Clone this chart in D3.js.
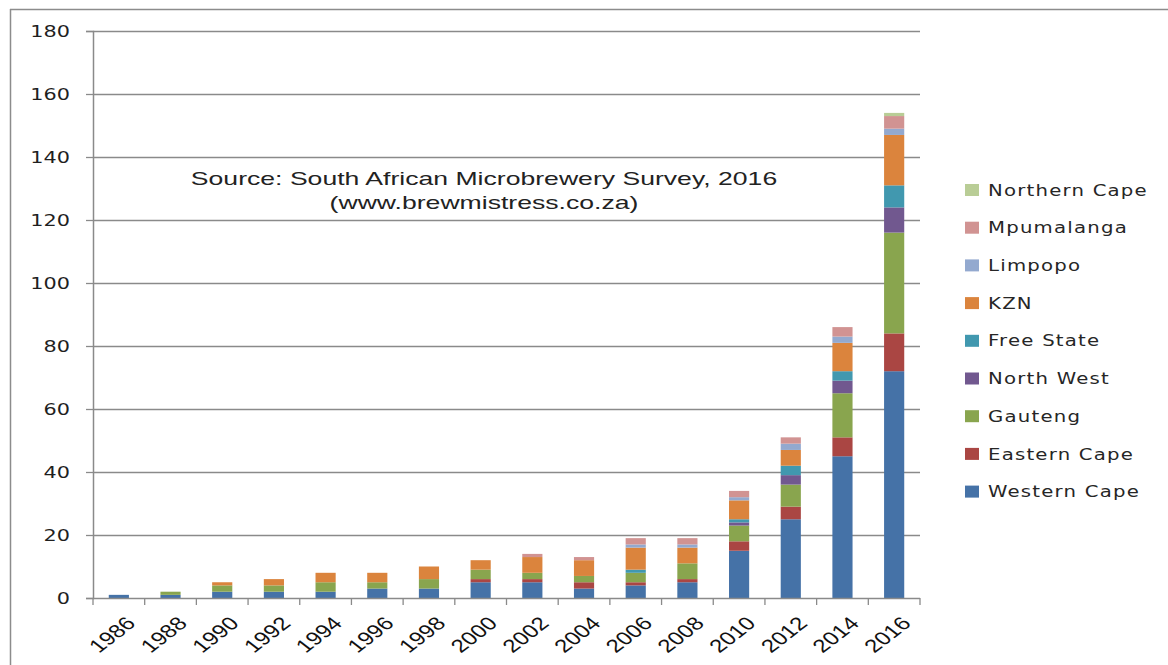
<!DOCTYPE html>
<html>
<head>
<meta charset="utf-8">
<script src="https://cdn.jsdelivr.net/npm/d3@7"></script>
<style>
  body { margin: 0; background: #fff; }
</style>
</head>
<body>
<div id="chart"></div>
<script>
// data
const years = ["1986","1988","1990","1992","1994","1996","1998","2000","2002","2004","2006","2008","2010","2012","2014","2016"];
const westernCape  = [1, 1, 2, 2, 2, 3, 3, 5, 5, 3, 4, 5, 15, 25, 45, 72];
const easternCape  = [0, 0, 0, 0, 0, 0, 0, 1, 1, 2, 1, 1, 3, 4, 6, 12];
const gauteng      = [0, 1, 2, 2, 3, 2, 3, 3, 2, 2, 3, 5, 5, 7, 14, 32];
const northWest    = [0, 0, 0, 0, 0, 0, 0, 0, 0, 0, 0, 0, 1, 3, 4, 8];
const freeState    = [0, 0, 0, 0, 0, 0, 0, 0, 0, 0, 1, 0, 1, 3, 3, 7];
const kzn          = [0, 0, 1, 2, 3, 3, 4, 3, 5, 5, 7, 5, 6, 5, 9, 16];
const limpopo      = [0, 0, 0, 0, 0, 0, 0, 0, 0, 0, 1, 1, 1, 2, 2, 2];
const mpumalanga   = [0, 0, 0, 0, 0, 0, 0, 0, 1, 1, 2, 2, 2, 2, 3, 4];
const northernCape = [0, 0, 0, 0, 0, 0, 0, 0, 0, 0, 0, 0, 0, 0, 0, 1];
const yTicks = [0, 20, 40, 60, 80, 100, 120, 140, 160, 180];

const seriesNames = ["Western Cape","Eastern Cape","Gauteng","North West","Free State","KZN","Limpopo","Mpumalanga","Northern Cape"];
const seriesValues = [westernCape, easternCape, gauteng, northWest, freeState, kzn, limpopo, mpumalanga, northernCape];
const colors = ["#4572A7","#AA4643","#89A54E","#71588F","#4198AF","#DB843D","#93A9CF","#D19392","#B9CD96"];

// build rows for the stack
const rows = years.map(function(y, i) {
  const r = {year: y};
  seriesNames.forEach(function(s, j) { r[s] = seriesValues[j][i]; });
  return r;
});

const W = 1168, H = 665;
const margin = {top: 31, right: 248, bottom: 67, left: 93},
    width = W - margin.left - margin.right,
    height = H - margin.top - margin.bottom;

// the source image is stretched sideways, so text gets the same stretch
const stretch = 1.3;

const svg = d3.select("#chart").append("svg")
    .attr("width", W)
    .attr("height", H);

// outer frame (only top and left edges show)
svg.append("line").attr("x1", 10).attr("x2", W).attr("y1", 9.5).attr("y2", 9.5)
    .attr("stroke", "#8c8c8c").attr("stroke-width", 1.5);
svg.append("line").attr("x1", 10.5).attr("x2", 10.5).attr("y1", 9).attr("y2", H)
    .attr("stroke", "#8c8c8c").attr("stroke-width", 1.5);

const g = svg.append("g")
    .attr("transform", `translate(${margin.left}, ${margin.top})`);

const x = d3.scaleBand()
    .domain(years)
    .range([0, width])
    .paddingInner(0.61)
    .paddingOuter(0.305);

const y = d3.scaleLinear()
    .domain([0, 180])
    .range([height, 0]);

// gridlines
g.selectAll(".grid")
  .data(yTicks.filter(function(d) { return d > 0; }))
  .join("line")
    .attr("class", "grid")
    .attr("x1", 0).attr("x2", width)
    .attr("y1", function(d) { return Math.round(y(d)) + 0.5; })
    .attr("y2", function(d) { return Math.round(y(d)) + 0.5; })
    .attr("stroke", "#8a8a8a")
    .attr("stroke-width", 1.3);

// stacked bars
const stack = d3.stack().keys(seriesNames);
const layers = stack(rows);

g.selectAll(".layer")
  .data(layers)
  .join("g")
    .attr("class", "layer")
    .attr("fill", function(d, i) { return colors[i]; })
  .selectAll("rect")
  .data(function(d) { return d; })
  .join("rect")
    .attr("x", function(d) { return x(d.data.year); })
    .attr("width", x.bandwidth())
    .attr("y", function(d) { return y(d[1]); })
    .attr("height", function(d) { return y(d[0]) - y(d[1]); });

// y axis
const yAxis = g.append("g")
    .call(d3.axisLeft(y).tickValues(yTicks).tickSize(7));
yAxis.select(".domain").attr("stroke", "#8a8a8a").attr("stroke-width", 1.5);
yAxis.selectAll(".tick line").attr("stroke", "#8a8a8a").attr("stroke-width", 1.3);
yAxis.selectAll(".tick text")
    .attr("x", 0)
    .attr("transform", `translate(-23, 0) scale(${stretch}, 1)`)
    .attr("font-family", "DejaVu Sans, Verdana, sans-serif")
    .attr("font-size", 16)
    .attr("fill", "#1f1f1f");

// x axis: ticks on category boundaries
const xAxisG = g.append("g").attr("transform", `translate(0, ${height})`);
xAxisG.append("line")
    .attr("x1", 0).attr("x2", width)
    .attr("y1", 0.5).attr("y2", 0.5)
    .attr("stroke", "#8a8a8a").attr("stroke-width", 1.5);
const step = x.step();
xAxisG.selectAll(".xtick")
  .data(d3.range(years.length + 1))
  .join("line")
    .attr("class", "xtick")
    .attr("x1", function(i) { return x(years[0]) - x.paddingOuter() * step + i * step; })
    .attr("x2", function(i) { return x(years[0]) - x.paddingOuter() * step + i * step; })
    .attr("y1", 0).attr("y2", 7)
    .attr("stroke", "#8a8a8a").attr("stroke-width", 1.3);

xAxisG.selectAll(".xlabel")
  .data(years)
  .join("text")
    .attr("class", "xlabel")
    .attr("transform", function(d) {
      return `translate(${x(d) + x.bandwidth() / 2 + 12}, 22) scale(${stretch}, 1) rotate(-45)`;
    })
    .attr("text-anchor", "end")
    .attr("dy", "0.35em")
    .attr("font-family", "Liberation Sans, Arial, sans-serif")
    .attr("font-size", 18.5)
    .attr("fill", "#111")
    .text(function(d) { return d; });

// source annotation
const note = g.append("text")
    .attr("transform", `translate(391, 0) scale(1.4, 1)`)
    .attr("text-anchor", "middle")
    .attr("font-family", "Liberation Sans, Arial, sans-serif")
    .attr("font-size", 19)
    .attr("fill", "#222");
note.append("tspan").attr("x", 0).attr("y", 154).text("Source: South African Microbrewery Survey, 2016");
note.append("tspan").attr("x", 0).attr("y", 178).text("(www.brewmistress.co.za)");

// legend (top to bottom: reverse of stack order)
const legend = svg.append("g")
    .attr("transform", "translate(965, 190)");
const legendItems = legend.selectAll(".item")
  .data(seriesNames.slice().reverse())
  .join("g")
    .attr("class", "item")
    .attr("transform", function(d, i) { return `translate(0, ${i * 37.7})`; });
legendItems.append("rect")
    .attr("x", 0).attr("y", -6)
    .attr("width", 14).attr("height", 12)
    .attr("fill", function(d) { return colors[seriesNames.indexOf(d)]; });
legendItems.append("text")
    .attr("transform", "translate(23, 0) scale(1.23, 1)")
    .attr("dy", "0.35em")
    .attr("font-family", "DejaVu Sans, Verdana, sans-serif")
    .attr("font-size", 16)
    .attr("letter-spacing", 1)
    .attr("fill", "#262626")
    .text(function(d) { return d; });
</script>
</body>
</html>
